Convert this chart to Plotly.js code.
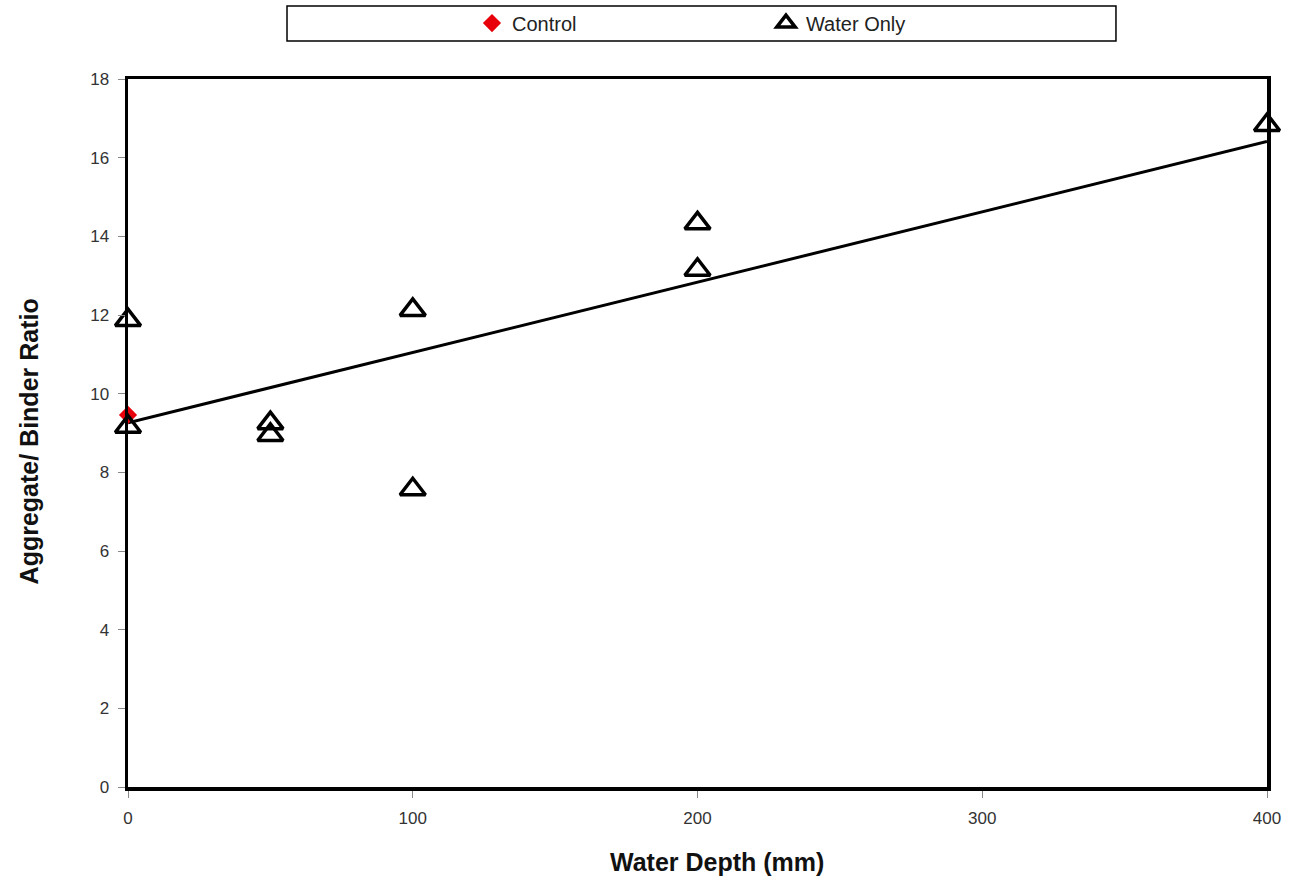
<!DOCTYPE html>
<html>
<head>
<meta charset="utf-8">
<script src="https://cdn.plot.ly/plotly-3.0.1.min.js"></script>
<style>html,body{margin:0;padding:0;background:#fff;}#chart{width:1294px;height:881px;}</style>
</head>
<body>
<div id="chart"></div>
<script>
// Data
const waterDepth = [0, 0, 50, 50, 100, 100, 200, 200, 400];
const waterOnlyRatio = [11.87, 9.16, 9.25, 8.95, 12.13, 7.57, 14.33, 13.15, 16.83];
const controlDepth = [0];
const controlRatio = [9.46];
const trendDepth = [0, 400];
const trendRatio = [9.26, 16.41];
const xTicks = [0, 100, 200, 300, 400];
const yTicks = [0, 2, 4, 6, 8, 10, 12, 14, 16, 18];
const xTitle = 'Water Depth (mm)';
const yTitle = 'Aggregate/ Binder Ratio';

const traces = [
  {
    x: trendDepth, y: trendRatio, mode: 'lines', type: 'scatter',
    line: {color: '#000', width: 3}, showlegend: false, hoverinfo: 'skip', cliponaxis: false
  },
  {
    x: controlDepth, y: controlRatio, mode: 'markers', type: 'scatter', name: 'Control',
    marker: {symbol: 'diamond', color: '#e8000b', size: 14}, cliponaxis: false
  },
  {
    x: waterDepth, y: waterOnlyRatio, mode: 'markers', type: 'scatter', name: 'Water Only',
    marker: {symbol: 'triangle-up-open', color: '#000', size: 22, line: {color: '#000', width: 3.5}},
    cliponaxis: false
  }
];

const titleFont = {size: 25, color: '#111', family: 'Liberation Sans, Arial, sans-serif', weight: 'bold'};

const layout = {
  width: 1294, height: 881,
  margin: {l: 128, r: 27, t: 79, b: 94, autoexpand: false},
  paper_bgcolor: '#fff', plot_bgcolor: '#fff',
  font: {family: 'Liberation Sans, Arial, sans-serif', color: '#333'},
  xaxis: {
    range: [0, 400], tickvals: xTicks, ticktext: xTicks.map(String),
    showgrid: false, zeroline: false,
    showline: true, linecolor: '#000', linewidth: 3.5, mirror: true,
    ticks: 'outside', ticklen: 7, tickcolor: '#888', tickwidth: 1,
    ticklabelstandoff: 6,
    tickfont: {size: 17, color: '#333'}
  },
  yaxis: {
    range: [0, 18], tickvals: yTicks, ticktext: yTicks.map(String),
    showgrid: false, zeroline: false,
    showline: true, linecolor: '#000', linewidth: 3.5, mirror: true,
    ticks: 'outside', ticklen: 7, tickcolor: '#888', tickwidth: 1,
    ticklabelstandoff: 5,
    tickfont: {size: 17, color: '#333'}
  },
  annotations: [
    {text: xTitle, xref: 'paper', yref: 'paper', x: 0.517, y: -0.106, xanchor: 'center', yanchor: 'middle',
     showarrow: false, font: titleFont},
    {text: yTitle, xref: 'paper', yref: 'paper', x: -0.0861, y: 0.488, xanchor: 'center', yanchor: 'middle',
     textangle: -90, showarrow: false, font: titleFont}
  ],
  showlegend: true,
  legend: {
    orientation: 'h', x: 0.302, xanchor: 'left', y: 1.079, yanchor: 'middle',
    entrywidth: 249, entrywidthmode: 'pixels',
    bgcolor: 'rgba(0,0,0,0)', borderwidth: 0,
    font: {size: 20, color: '#222'}, itemclick: false
  },
  shapes: [{
    type: 'rect', xref: 'paper', yref: 'paper',
    x0: 0.1396, x1: 0.8674, y0: 1.0537, y1: 1.1031,
    line: {color: '#000', width: 1.5}, fillcolor: 'rgba(0,0,0,0)'
  }]
};

Plotly.newPlot('chart', traces, layout, {displayModeBar: false, staticPlot: true});
</script>
</body>
</html>
